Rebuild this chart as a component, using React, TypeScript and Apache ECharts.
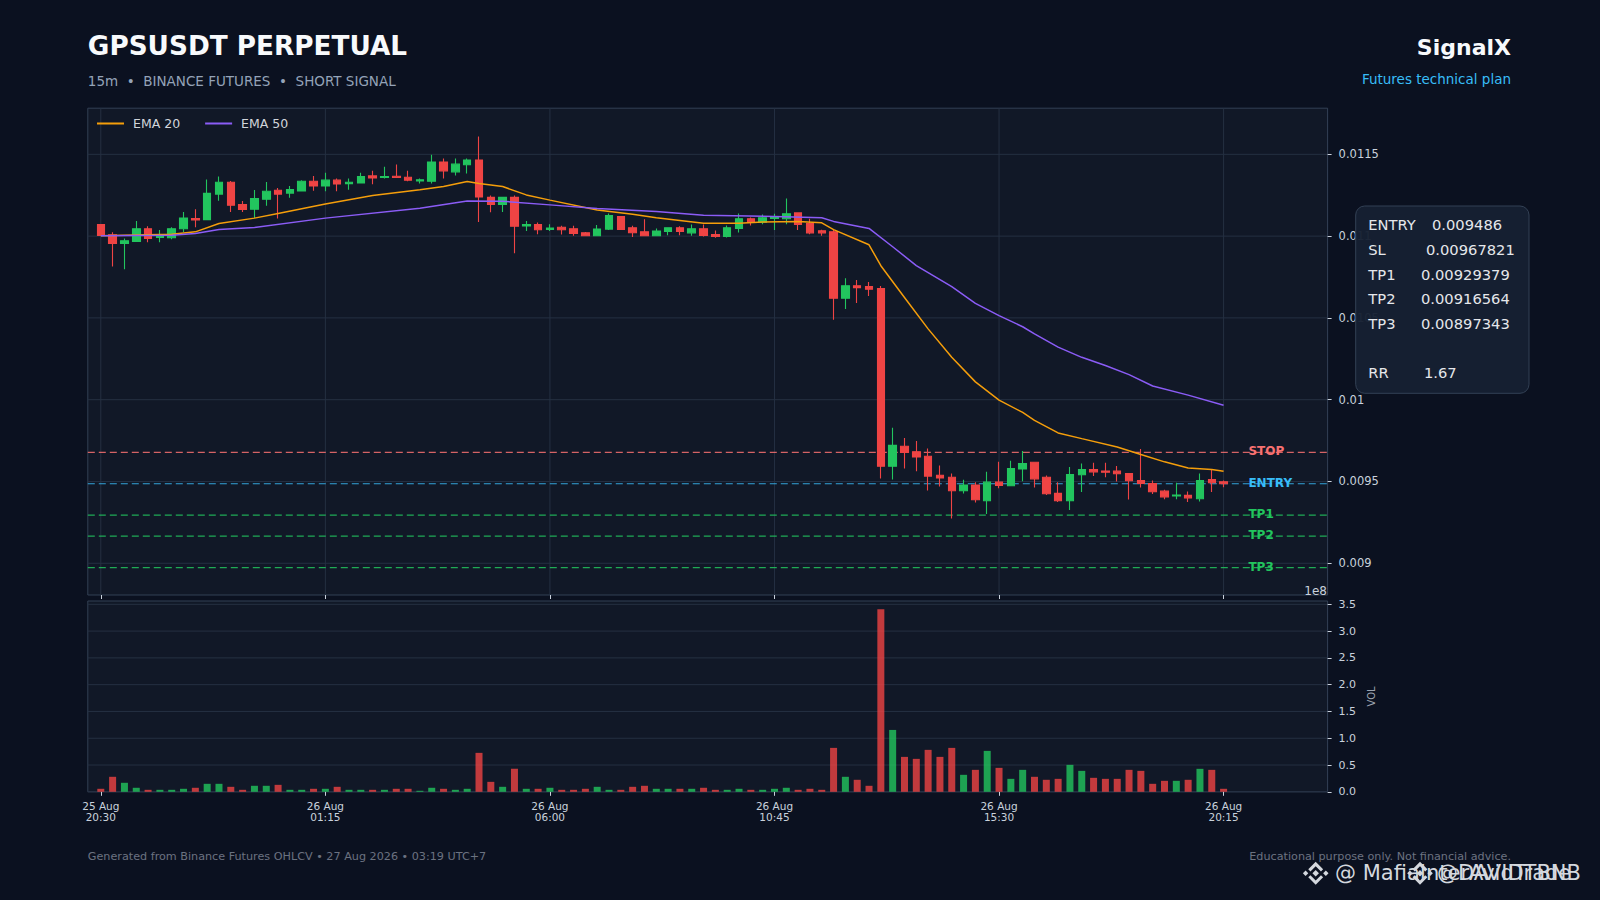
import React, { useEffect, useRef } from "react";
import * as echarts from "echarts";

// ---------------- data ----------------
const opens = [
  0.01107, 0.011008, 0.010955, 0.010967, 0.011045, 0.010992, 0.01099, 0.011045, 0.011107, 0.011101,
  0.011257, 0.011329, 0.011193, 0.011165, 0.011226, 0.01128, 0.011263, 0.011276, 0.011335, 0.011307,
  0.011342, 0.011321, 0.011325, 0.011368, 0.011358, 0.011366, 0.01136, 0.011338, 0.011335, 0.011453,
  0.011393, 0.011436, 0.011465, 0.011237, 0.011193, 0.011237, 0.011062, 0.01107, 0.011041, 0.011054,
  0.011045, 0.011021, 0.011002, 0.011043, 0.011119, 0.011051, 0.011027, 0.011002, 0.011028, 0.011051,
  0.01102, 0.011045, 0.01101, 0.010998, 0.011047, 0.011106, 0.011085, 0.011108, 0.011106, 0.011142,
  0.011077, 0.011033, 0.011026, 0.01062, 0.010697, 0.010691, 0.010679, 0.009593, 0.009715, 0.009681,
  0.009654, 0.009538, 0.009526, 0.009443, 0.009478, 0.009382, 0.009496, 0.009474, 0.009577, 0.009618,
  0.009526, 0.009427, 0.009382, 0.009541, 0.009573, 0.009563, 0.009563, 0.009549, 0.009506, 0.009488,
  0.009441, 0.009411, 0.009415, 0.009394, 0.009512, 0.009498,
];
const closes = [
  0.011004, 0.010955, 0.010971, 0.011045, 0.010986, 0.011, 0.011045, 0.011111, 0.011099, 0.011261,
  0.011329, 0.011189, 0.011163, 0.01123, 0.011274, 0.011257, 0.011284, 0.011335, 0.011307, 0.011342,
  0.011319, 0.011329, 0.011364, 0.011356, 0.011364, 0.011358, 0.011342, 0.011344, 0.011453, 0.011399,
  0.01144, 0.011465, 0.011239, 0.011193, 0.011237, 0.01106, 0.01107, 0.011039, 0.011049, 0.011039,
  0.011016, 0.011002, 0.011043, 0.011126, 0.011041, 0.011021, 0.011002, 0.011031, 0.011051, 0.011028,
  0.011045, 0.011004, 0.010998, 0.011051, 0.011106, 0.011085, 0.011112, 0.011114, 0.011136, 0.011071,
  0.01102, 0.01102, 0.01062, 0.010697, 0.010685, 0.010675, 0.009593, 0.009721, 0.009677, 0.00965,
  0.009533, 0.009522, 0.009443, 0.009478, 0.009388, 0.009496, 0.009476, 0.009579, 0.00961, 0.009516,
  0.009425, 0.009382, 0.009543, 0.009573, 0.009559, 0.009557, 0.009547, 0.009504, 0.009488, 0.009437,
  0.009406, 0.009417, 0.0094, 0.009506, 0.009492, 0.009486,
];
const lows = [
  0.011, 0.010815, 0.010798, 0.010965, 0.010963, 0.010963, 0.010981, 0.011025, 0.011054, 0.011099,
  0.011216, 0.011148, 0.011148, 0.011111, 0.011185, 0.011107, 0.011235, 0.011272, 0.011278, 0.011274,
  0.011274, 0.011284, 0.011321, 0.011317, 0.011352, 0.011356, 0.011335, 0.011321, 0.011321, 0.011352,
  0.01137, 0.011383, 0.011086, 0.011146, 0.011148, 0.010895, 0.011031, 0.011012, 0.011031, 0.01101,
  0.011002, 0.011, 0.011, 0.011037, 0.011037, 0.010994, 0.011, 0.011, 0.011006, 0.011006,
  0.011002, 0.010998, 0.01099, 0.010992, 0.011022, 0.011065, 0.011073, 0.011037, 0.011073, 0.011037,
  0.011012, 0.011002, 0.010488, 0.010555, 0.010591, 0.010634, 0.009518, 0.009512, 0.009579, 0.009563,
  0.009445, 0.00947, 0.009274, 0.009427, 0.009372, 0.009301, 0.009459, 0.009472, 0.009502, 0.009463,
  0.009417, 0.009374, 0.009325, 0.009435, 0.009533, 0.009526, 0.0095, 0.00939, 0.009463, 0.009423,
  0.009392, 0.009392, 0.009374, 0.009378, 0.009435, 0.009465,
];
const highs = [
  0.011074, 0.011023, 0.010986, 0.011093, 0.01106, 0.011037, 0.011054, 0.011148, 0.011165, 0.011346,
  0.011364, 0.011337, 0.011214, 0.011282, 0.011331, 0.011294, 0.011307, 0.011342, 0.011368, 0.011387,
  0.011352, 0.011352, 0.011387, 0.011399, 0.011424, 0.011438, 0.011399, 0.011352, 0.011498, 0.011475,
  0.011475, 0.011475, 0.011609, 0.011249, 0.011239, 0.011249, 0.011093, 0.011084, 0.011072, 0.011064,
  0.011064, 0.011025, 0.011068, 0.011138, 0.011121, 0.011064, 0.011103, 0.011047, 0.011053, 0.011061,
  0.011071, 0.011071, 0.011035, 0.011065, 0.011138, 0.011114, 0.011132, 0.011136, 0.01123, 0.011146,
  0.011106, 0.011039, 0.011041, 0.010742, 0.010732, 0.010719, 0.010695, 0.009829, 0.009766, 0.009748,
  0.009701, 0.009597, 0.009549, 0.00951, 0.009496, 0.009559, 0.00962, 0.009626, 0.009687, 0.00962,
  0.009537, 0.009496, 0.009589, 0.00961, 0.009614, 0.009614, 0.009594, 0.009551, 0.009699, 0.009506,
  0.009449, 0.009492, 0.009439, 0.009549, 0.009573, 0.009506,
];
// volume, in units of 1e8
const volumes = [
  0.056, 0.28, 0.168, 0.075, 0.037, 0.037, 0.037, 0.056, 0.075, 0.149,
  0.149, 0.093, 0.037, 0.112, 0.112, 0.13, 0.037, 0.037, 0.056, 0.056,
  0.093, 0.037, 0.037, 0.037, 0.037, 0.056, 0.056, 0.019, 0.075, 0.056,
  0.037, 0.056, 0.727, 0.186, 0.093, 0.43, 0.056, 0.056, 0.075, 0.037,
  0.037, 0.056, 0.093, 0.037, 0.037, 0.093, 0.112, 0.056, 0.056, 0.056,
  0.056, 0.075, 0.037, 0.037, 0.056, 0.037, 0.037, 0.056, 0.075, 0.037,
  0.056, 0.037, 0.82, 0.28, 0.224, 0.112, 3.41, 1.155, 0.652, 0.615,
  0.783, 0.652, 0.82, 0.317, 0.41, 0.764, 0.447, 0.242, 0.41, 0.28,
  0.224, 0.242, 0.503, 0.391, 0.261, 0.242, 0.242, 0.41, 0.391, 0.149,
  0.205, 0.205, 0.224, 0.429, 0.41, 0.056,
];
const ema20Idx = [0, 6, 8, 10, 13, 15, 19, 23, 27, 29, 31, 32, 34, 36, 38, 42, 45, 47, 51, 54, 56, 59, 61, 62, 65, 66, 68, 70, 72, 74, 76, 78, 79, 81, 83, 86, 88, 90, 92, 94, 95];
const ema20Val = [
  0.011002, 0.011012, 0.011026, 0.011077, 0.01111, 0.011138, 0.011197, 0.011248, 0.011283, 0.011303,
  0.011334, 0.011321, 0.011303, 0.011252, 0.01122, 0.011159, 0.011134, 0.011112, 0.011079, 0.011078,
  0.011087, 0.011089, 0.011081, 0.01104, 0.010947, 0.010819, 0.010625, 0.010433, 0.010259, 0.010109,
  0.009997, 0.009922, 0.009874, 0.009797, 0.009762, 0.009711, 0.009665, 0.00962, 0.009583, 0.009573,
  0.009563,
];
const ema50Idx = [0, 6, 8, 10, 13, 19, 27, 31, 34, 38, 42, 47, 51, 57, 61, 62, 65, 67, 69, 72, 74, 76, 78, 79, 81, 83, 85, 87, 89, 92, 95];
const ema50Val = [
  0.011002, 0.011006, 0.011016, 0.01104, 0.011053, 0.01111, 0.011171, 0.011214, 0.011213, 0.011191,
  0.011169, 0.01115, 0.011128, 0.01112, 0.011112, 0.01109, 0.011047, 0.010935, 0.01082, 0.010691,
  0.010589, 0.010514, 0.010446, 0.010402, 0.010321, 0.010259, 0.010209, 0.010153, 0.010084, 0.010028,
  0.009966,
];
const xTickIdx = [0, 19, 38, 57, 76, 95];
const xTickDate = ["25 Aug", "26 Aug", "26 Aug", "26 Aug", "26 Aug", "26 Aug"];
const xTickTime = ["20:30", "01:15", "06:00", "10:45", "15:30", "20:15"];
const priceTicks = [0.009, 0.0095, 0.01, 0.0105, 0.011, 0.0115];
const priceTickLabels = ["0.009", "0.0095", "0.01", "0.0105", "0.011", "0.0115"];
const volTicks = [0, 0.5, 1, 1.5, 2, 2.5, 3, 3.5];
const levelNames = ["STOP", "ENTRY", "TP1", "TP2", "TP3"];
const levelPrices = [0.00967821, 0.009486, 0.00929379, 0.00916564, 0.00897343];
const infoLabels = ["ENTRY", "SL", "TP1", "TP2", "TP3", "RR"];
const infoValues = ["0.009486", "0.00967821", "0.00929379", "0.00916564", "0.00897343", "1.67"];

// ---------------- layout / style ----------------
const FONT = "DejaVu Sans";
const BG = "#0b1120";
const AX_BG = "#111827";
const GRID_C = "#253042";
const SPINE = "#334155";
const TICK_TXT = "#c9d1dc";
const UP = "#22c55e";
const DOWN = "#ef4444";
const LEVEL_COLORS = ["#f87171", "#38bdf8", "#22c55e", "#22c55e", "#22c55e"];
const GL = 87.8;
const GW = 1239.8;
const P_TOP = 108.2;
const P_H = 486.8;
const V_TOP = 601;
const V_H = 190.8;
const X_MIN = -1.1;
const X_MAX = 103.8;
const P_MIN = 0.008806;
const P_MAX = 0.011782;
const V_MAX = 3.562;
const LABEL_X = 97.1;
const INFO_ROW_Y = [224.3, 249, 274, 298.3, 323.3, 372.3];
const INFO_VAL_X = [1432, 1426, 1421, 1421, 1421, 1424];

function txt(text: string, x: number, y: number, o: any = {}) {
  const align = o.align || "left";
  return {
    type: "text",
    z: o.z ?? 50,
    silent: true,
    style: {
      text,
      x,
      y,
      fill: o.fill || "#e5e7eb",
      fontSize: o.size || 12,
      fontWeight: o.weight || "normal",
      fontFamily: FONT,
      textAlign: align,
      align,
      textVerticalAlign: "middle",
      verticalAlign: "middle",
    },
  };
}

function logo(x: number, y: number, color: string) {
  const pts = [
    [[0, -2.4], [2.4, 0], [0, 2.4], [-2.4, 0]],
    [[7.5, -2], [9.5, 0], [7.5, 2], [5.5, 0]],
    [[-7.5, -2], [-5.5, 0], [-7.5, 2], [-9.5, 0]],
    [[-5.5, -3], [0, -8.5], [5.5, -3], [3.9, -1.4], [0, -5.3], [-3.9, -1.4]],
    [[-5.5, 3], [0, 8.5], [5.5, 3], [3.9, 1.4], [0, 5.3], [-3.9, 1.4]],
  ];
  return {
    type: "group",
    x,
    y,
    scaleX: 1.35,
    scaleY: 1.35,
    z: 60,
    silent: true,
    children: pts.map((p) => ({ type: "polygon", shape: { points: p }, style: { fill: color } })),
  };
}

export default function App() {
  const ref = useRef<HTMLDivElement>(null);

  useEffect(() => {
    if (!ref.current) return;
    const chart = echarts.init(ref.current, null, { renderer: "svg", width: 1600, height: 900 });

    const candleData = opens.map((o, i) => [i, o, closes[i], lows[i], highs[i]]);
    const volData = volumes.map((v, i) => ({
      value: [i, v],
      itemStyle: { color: closes[i] >= opens[i] ? UP : DOWN, opacity: 0.8 },
    }));

    const tickLabelStyle = { color: TICK_TXT, fontSize: 11, fontFamily: FONT };

    const graphic: any[] = [
      txt("GPSUSDT PERPETUAL", GL, 46, { size: 26.3, weight: "bold", fill: "#f8fafc" }),
      txt("15m  •  BINANCE FUTURES  •  SHORT SIGNAL", GL, 81, { size: 13.5, fill: "#94a3b8" }),
      txt("SignalX", 1511, 47, { size: 22, weight: "bold", fill: "#f8fafc", align: "right" }),
      txt("Futures technical plan", 1511, 78.5, { size: 13.5, fill: "#38bdf8", align: "right" }),
      txt("Generated from Binance Futures OHLCV • 27 Aug 2026 • 03:19 UTC+7", GL, 856, { size: 11.2, fill: "#6b7280" }),
      txt("Educational purpose only. Not financial advice.", 1511, 856, { size: 11.2, fill: "#6b7280", align: "right" }),
      txt("1e8", 1327, 591, { size: 12, fill: TICK_TXT, align: "right" }),
      {
        type: "rect",
        z: 90,
        silent: true,
        shape: { x: 1355.7, y: 206, width: 173.3, height: 187.3, r: 9 },
        style: { fill: "rgba(22,32,50,0.96)", stroke: SPINE, lineWidth: 1 },
      },
    ];
    infoLabels.forEach((l, k) => {
      graphic.push(txt(l, 1368.3, INFO_ROW_Y[k], { size: 14.7, fill: "#e5e7eb", z: 95 }));
      graphic.push(txt(infoValues[k], INFO_VAL_X[k], INFO_ROW_Y[k], { size: 14.7, fill: "#e5e7eb", z: 95 }));
    });
    graphic.push(logo(1315.7, 873.3, "#d4d8de"));
    graphic.push(txt("@ MafiaInterAvidTrade", 1335, 873, { size: 21, fill: "#d4d8de", z: 61 }));
    graphic.push(logo(1420, 873.3, "#d4d8de"));
    graphic.push(txt("@DAVIDTBNB", 1437, 873, { size: 21, fill: "#d4d8de", z: 61 }));

    const option: any = {
      animation: false,
      backgroundColor: BG,
      textStyle: { fontFamily: FONT },
      legend: {
        left: 97,
        top: 117,
        padding: 0,
        icon: "rect",
        itemWidth: 27,
        itemHeight: 2,
        itemGap: 25,
        textStyle: { color: "#d1d5db", fontSize: 12.5, fontFamily: FONT, padding: [0, 0, 0, 4] },
        data: ["EMA 20", "EMA 50"],
      },
      grid: [
        { left: GL, top: P_TOP, width: GW, height: P_H, show: true, backgroundColor: AX_BG, borderColor: SPINE, borderWidth: 1 },
        { left: GL, top: V_TOP, width: GW, height: V_H, show: true, backgroundColor: AX_BG, borderColor: SPINE, borderWidth: 1 },
      ],
      xAxis: [
        {
          type: "value",
          gridIndex: 0,
          min: X_MIN,
          max: X_MAX,
          axisLine: { show: false, onZero: false },
          axisTick: { show: true, customValues: xTickIdx, length: 4, lineStyle: { color: TICK_TXT } },
          axisLabel: { show: false },
          splitLine: { show: false },
        },
        {
          type: "value",
          gridIndex: 1,
          min: X_MIN,
          max: X_MAX,
          axisLine: { show: false, onZero: false },
          axisTick: { show: true, customValues: xTickIdx, length: 4, lineStyle: { color: TICK_TXT } },
          axisLabel: {
            show: true,
            customValues: xTickIdx,
            margin: 8,
            color: TICK_TXT,
            fontSize: 10.5,
            lineHeight: 11.5,
            fontFamily: FONT,
            formatter: (v: number) => {
              const k = xTickIdx.indexOf(Math.round(v));
              return k >= 0 ? `${xTickDate[k]}\n${xTickTime[k]}` : "";
            },
          },
          splitLine: { show: false },
        },
      ],
      yAxis: [
        {
          type: "value",
          gridIndex: 0,
          position: "right",
          min: P_MIN,
          max: P_MAX,
          axisLine: { show: false, onZero: false },
          axisTick: { show: true, customValues: priceTicks, length: 4, lineStyle: { color: TICK_TXT } },
          axisLabel: {
            show: true,
            customValues: priceTicks,
            margin: 11,
            ...tickLabelStyle,
            fontSize: 11.5,
            formatter: (v: number) => {
              let best = 0;
              priceTicks.forEach((p, k) => {
                if (Math.abs(p - v) < Math.abs(priceTicks[best] - v)) best = k;
              });
              return priceTickLabels[best];
            },
          },
          splitLine: { show: false },
        },
        {
          type: "value",
          gridIndex: 1,
          position: "right",
          min: 0,
          max: V_MAX,
          name: "VOL",
          nameLocation: "middle",
          nameRotate: 90,
          nameGap: 36,
          nameTextStyle: { color: "#9ca3af", fontSize: 10, fontFamily: FONT },
          axisLine: { show: false, onZero: false },
          axisTick: { show: true, customValues: volTicks, length: 4, lineStyle: { color: TICK_TXT } },
          axisLabel: {
            show: true,
            customValues: volTicks,
            margin: 11,
            ...tickLabelStyle,
            formatter: (v: number) => v.toFixed(1),
          },
          splitLine: { show: false },
        },
      ],
      series: [
        {
          type: "custom",
          name: "vgrid",
          xAxisIndex: 0,
          yAxisIndex: 0,
          z: 0,
          silent: true,
          data: xTickIdx.map((i) => [i, 0.01]),
          renderItem: (params: any, api: any) => {
            const cs = params.coordSys;
            const x = api.coord([api.value(0), api.value(1)])[0];
            return { type: "line", shape: { x1: x, y1: cs.y, x2: x, y2: cs.y + cs.height }, style: { stroke: GRID_C, lineWidth: 1 } };
          },
        },
        {
          type: "custom",
          name: "hgrid",
          xAxisIndex: 0,
          yAxisIndex: 0,
          z: 0,
          silent: true,
          data: priceTicks.map((p) => [0, p]),
          renderItem: (params: any, api: any) => {
            const cs = params.coordSys;
            const y = api.coord([api.value(0), api.value(1)])[1];
            return { type: "line", shape: { x1: cs.x, y1: y, x2: cs.x + cs.width, y2: y }, style: { stroke: GRID_C, lineWidth: 1 } };
          },
        },
        {
          type: "custom",
          name: "vol-hgrid",
          xAxisIndex: 1,
          yAxisIndex: 1,
          z: 0,
          silent: true,
          data: volTicks.map((v) => [0, v]),
          renderItem: (params: any, api: any) => {
            const cs = params.coordSys;
            const y = api.coord([api.value(0), api.value(1)])[1];
            return { type: "line", shape: { x1: cs.x, y1: y, x2: cs.x + cs.width, y2: y }, style: { stroke: GRID_C, lineWidth: 1 } };
          },
        },
        {
          type: "custom",
          name: "levels",
          xAxisIndex: 0,
          yAxisIndex: 0,
          z: 1,
          silent: true,
          data: levelPrices.map((p, k) => [LABEL_X, p, k]),
          renderItem: (params: any, api: any) => {
            const cs = params.coordSys;
            const pt = api.coord([api.value(0), api.value(1)]);
            const k = api.value(2);
            const c = LEVEL_COLORS[k];
            return {
              type: "group",
              children: [
                {
                  type: "line",
                  shape: { x1: cs.x, y1: pt[1], x2: cs.x + cs.width, y2: pt[1] },
                  style: { stroke: c, lineWidth: 1.2, lineDash: [7, 4], opacity: 0.85 },
                },
                {
                  type: "text",
                  x: pt[0],
                  y: pt[1] - 1,
                  style: {
                    text: levelNames[k],
                    fill: c,
                    fontSize: 12,
                    fontWeight: "bold",
                    fontFamily: FONT,
                    align: "left",
                    textAlign: "left",
                    verticalAlign: "middle",
                    textVerticalAlign: "middle",
                  },
                },
              ],
            };
          },
        },
        {
          type: "candlestick",
          name: "GPSUSDT",
          xAxisIndex: 0,
          yAxisIndex: 0,
          z: 2,
          barWidth: 8,
          data: candleData,
          itemStyle: { color: UP, color0: DOWN, borderColor: UP, borderColor0: DOWN, borderWidth: 1.1 },
        },
        {
          type: "line",
          name: "EMA 20",
          xAxisIndex: 0,
          yAxisIndex: 0,
          z: 3,
          symbol: "none",
          showSymbol: false,
          data: ema20Idx.map((i, k) => [i, ema20Val[k]]),
          lineStyle: { color: "#f59e0b", width: 1.5 },
          itemStyle: { color: "#f59e0b" },
        },
        {
          type: "line",
          name: "EMA 50",
          xAxisIndex: 0,
          yAxisIndex: 0,
          z: 3,
          symbol: "none",
          showSymbol: false,
          data: ema50Idx.map((i, k) => [i, ema50Val[k]]),
          lineStyle: { color: "#8b5cf6", width: 1.5 },
          itemStyle: { color: "#8b5cf6" },
        },
        {
          type: "bar",
          name: "VOL",
          xAxisIndex: 1,
          yAxisIndex: 1,
          z: 2,
          barWidth: 7,
          data: volData,
        },
      ],
      graphic,
    };

    chart.setOption(option);
    return () => chart.dispose();
  }, []);

  return (
    <div
      ref={ref}
      style={{ position: "fixed", left: 0, top: 0, width: "1600px", height: "900px", background: BG }}
    />
  );
}
